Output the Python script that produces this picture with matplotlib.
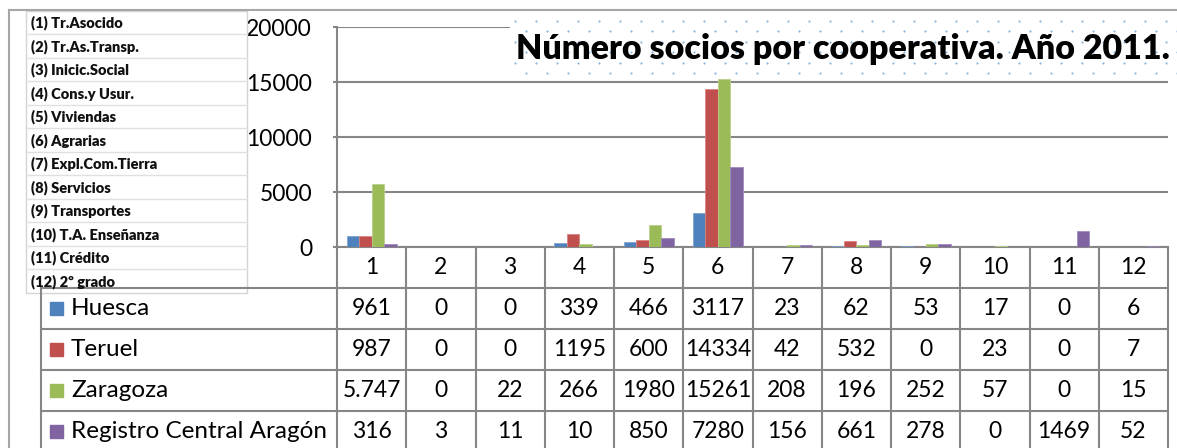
import numpy as np
import matplotlib
matplotlib.use("Agg")
import matplotlib.pyplot as plt
from matplotlib.transforms import blended_transform_factory
from matplotlib.patches import Rectangle

plt.rcParams['font.family'] = ['Lato', 'DejaVu Sans']

# data
categories = ['1', '2', '3', '4', '5', '6', '7', '8', '9', '10', '11', '12']
tipos = ['(1) Tr.Asocido', '(2) Tr.As.Transp.', '(3) Inicic.Social', '(4) Cons.y Usur.',
         '(5) Viviendas', '(6) Agrarias', '(7) Expl.Com.Tierra', '(8) Servicios',
         '(9) Transportes', '(10) T.A. Enseñanza', '(11) Crédito', '(12) 2º grado']
series = ['Huesca', 'Teruel', 'Zaragoza', 'Registro Central Aragón']
huesca = [961, 0, 0, 339, 466, 3117, 23, 62, 53, 17, 0, 6]
teruel = [987, 0, 0, 1195, 600, 14334, 42, 532, 0, 23, 0, 7]
zaragoza = [5747, 0, 22, 266, 1980, 15261, 208, 196, 252, 57, 0, 15]
registro = [316, 3, 11, 10, 850, 7280, 156, 661, 278, 0, 1469, 52]
# text as printed in the table (Zaragoza col 1 shown with thousands dot)
zaragoza_txt = ['5.747'] + [str(v) for v in zaragoza[1:]]
colors = ['#4F81BD', '#C0504D', '#9BBB59', '#8064A2']
edges = ['#7FA3D0', '#D98583', '#B9D08A', '#A08BBE']
yticks = [0, 5000, 10000, 15000, 20000]

W, H = 1177, 448
fig = plt.figure(figsize=(W / 100, H / 100), dpi=100)
fig.patch.set_facecolor('white')

plot_l, plot_r, plot_t, plot_b = 337, 1168, 27, 247
row_h = 41
tab_l = 41
grid_c = '#868686'

ax = fig.add_axes([plot_l / W, 1 - plot_b / H, (plot_r - plot_l) / W, (plot_b - plot_t) / H])
x = np.arange(len(categories))
bw = 0.18
all_vals = [huesca, teruel, zaragoza, registro]
for i, vals in enumerate(all_vals):
    ax.bar(x + (i - 1.5) * bw, vals, bw, color=colors[i], edgecolor=edges[i], linewidth=0.6, zorder=3)
ax.set_xlim(-0.5, len(categories) - 0.5)
ax.set_ylim(0, 20000)
ax.set_yticks(yticks)
ax.set_yticklabels([str(v) for v in yticks], fontsize=16.5)
ax.set_xticks([])
ax.grid(axis='y', color=grid_c, linewidth=1.5, zorder=0)
for s in ['top', 'right']:
    ax.spines[s].set_visible(False)
for s in ['left', 'bottom']:
    ax.spines[s].set_color(grid_c)
    ax.spines[s].set_linewidth(1.5)
ax.tick_params(axis='y', colors=grid_c, length=3, width=1.5, pad=15, labelcolor='black')

# overlay in pixel coordinates
bg = fig.add_axes([0, 0, 1, 1], zorder=5)
bg.set_xlim(0, W)
bg.set_ylim(H, 0)
bg.axis('off')
bg.patch.set_alpha(0)
tr = blended_transform_factory(ax.transData, bg.transData)

# outer chart border
bg.plot([9, W], [10, 10], color='#A6A6A6', lw=1.5)
bg.plot([9, 9], [10, H], color='#A6A6A6', lw=1.5)

# data table lines
rows_y = [plot_b + row_h * (k + 1) for k in range(5)]
for k in range(len(categories) + 1):
    bg.plot([k - 0.5, k - 0.5], [plot_b, H], color=grid_c, lw=1.5, transform=tr)
bg.plot([tab_l, tab_l], [rows_y[0], H], color=grid_c, lw=1.5)
for yy in rows_y[:4]:
    bg.plot([tab_l, plot_r], [yy, yy], color=grid_c, lw=1.5)

# category row
for k, c in enumerate(categories):
    bg.text(k, plot_b + row_h / 2, c, transform=tr, ha='center', va='center', fontsize=16.5)

table_txt = [[str(v) for v in huesca], [str(v) for v in teruel], zaragoza_txt,
             [str(v) for v in registro]]
for r, name in enumerate(series):
    yc = rows_y[r] + row_h / 2
    bg.add_patch(Rectangle((50, yc - 6.5), 13, 13, color=colors[r]))
    bg.text(71, yc, name, ha='left', va='center', fontsize=17.5)
    for k, t in enumerate(table_txt[r]):
        bg.text(k, yc, t, transform=tr, ha='center', va='center', fontsize=16.5)

# category names box
lb_l, lb_r, lb_t = 26, 247, 11
lb_h = 23.5
bg.add_patch(Rectangle((lb_l, lb_t), lb_r - lb_l, lb_h * len(tipos), facecolor='white',
                       edgecolor='#D4D4D4', lw=1))
for k, t in enumerate(tipos):
    if k > 0:
        bg.plot([lb_l, lb_r], [lb_t + k * lb_h] * 2, color='#E0E0E0', lw=1)
    bg.text(31, lb_t + (k + 0.5) * lb_h, t, ha='left', va='center', fontsize=10.5,
            fontweight='heavy', color='#111111')

# title box with dotted fill
tb_l, tb_t, tb_b = 510, 16, 77
bg.add_patch(Rectangle((tb_l, tb_t), W - tb_l, tb_b - tb_t, facecolor='white', edgecolor='none'))
for j in range(6):
    yy = 21 + 10.5 * j
    xs = np.arange(tb_l + 5 + (j % 2) * 10.5, W, 21)
    bg.scatter(xs, np.full(len(xs), yy), s=2.5, color='#8EB4E3', linewidths=0)
bg.text(843, 49, 'Número socios por cooperativa. Año 2011.', ha='center', va='center',
        fontsize=24.5, fontweight='heavy')

fig.savefig('out.png', dpi=100)
